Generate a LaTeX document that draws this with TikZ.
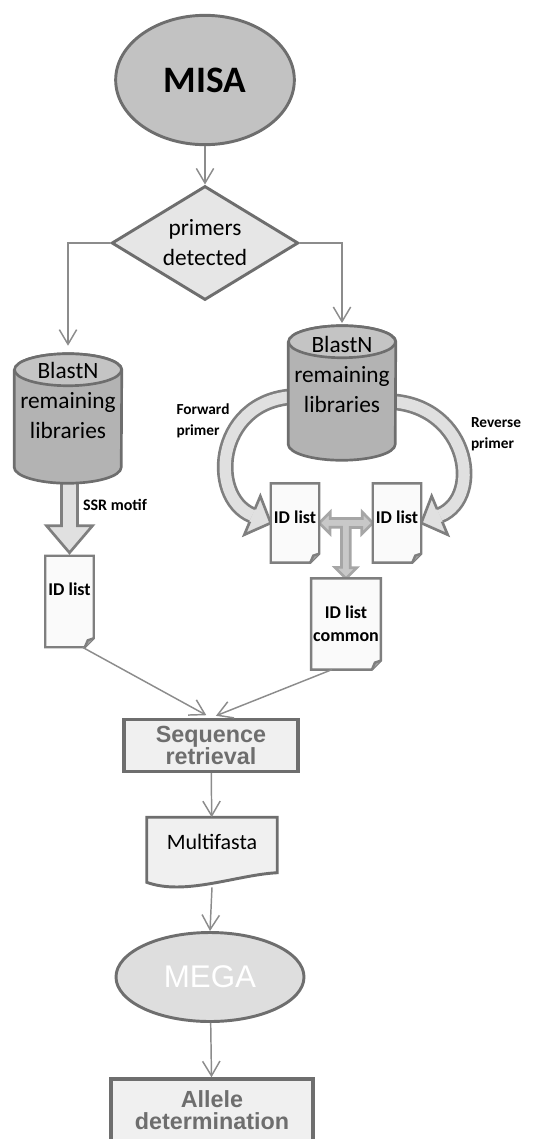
\documentclass[tikz,border=0pt]{standalone}
\usepackage{fontspec}
\setmainfont{Carlito}
\newfontfamily\arialfont{Liberation Sans}
\usetikzlibrary{shapes,shapes.geometric,arrows.meta,calc,positioning,backgrounds}

\definecolor{edgegray}{HTML}{6E6E6E}
\definecolor{linegray}{HTML}{8C8C8C}
\definecolor{misagray}{HTML}{C2C2C2}
\definecolor{diagray}{HTML}{E6E6E6}
\definecolor{cylgray}{HTML}{B3B3B3}
\definecolor{cylend}{HTML}{C4C4C4}
\definecolor{blockfill}{HTML}{E0E0E0}
\definecolor{blockedge}{HTML}{7F7F7F}
\definecolor{docfill}{HTML}{FAFAFA}
\definecolor{docedge}{HTML}{7F7F7F}
\definecolor{tfill}{HTML}{C8C8C8}
\definecolor{tedge}{HTML}{A6A6A6}
\definecolor{boxgray}{HTML}{F0F0F0}
\definecolor{megagray}{HTML}{DEDEDE}

\begin{document}
\begin{tikzpicture}[%
>={Straight Barb[length=11pt,width=13pt]},
x=0.75pt, y=-0.75pt,
flow/.style={draw=linegray, line width=1.1pt},
term/.style={ellipse, draw=edgegray, line width=2.2pt, inner sep=0pt},
db/.style={rectangle, minimum width=80.25pt, inner sep=0pt},
dbline/.style={draw=edgegray, line width=2pt, line join=round},
dbtext/.style={align=center, font=\fontsize{17.5}{22.5}\selectfont},
doc/.style={minimum width=36pt, inner sep=0pt, align=center, font=\bfseries\fontsize{13.5}{17}\selectfont},
docline/.style={draw=docedge, fill=docfill, line width=1.8pt, line join=miter},
block/.style={draw=blockedge, fill=blockfill, line width=2pt, line join=miter},
band/.style={draw=blockedge, line width=2pt, double=blockfill, double distance=8.5pt},
proc/.style={rectangle, draw=edgegray, fill=boxgray, line width=2.6pt, inner sep=0pt, align=center,
  text=edgegray, font=\arialfont\bfseries\fontsize{17.5}{16.5}\selectfont},
lbl/.style={align=left, font=\bfseries\fontsize{11.5}{16}\selectfont}
]

\path[use as bounding box, clip] (0,0) rectangle (554,1139);

% decision part
\node[term, fill=misagray, minimum width=134pt, minimum height=97pt,
  font=\bfseries\fontsize{28}{30}\selectfont] (misa) at (205,80) {MISA};
\node[diamond, draw=edgegray, fill=diagray, line width=2.2pt, minimum width=140pt,
  minimum height=85.5pt, inner sep=0pt, aspect=1.6, align=center,
  font=\fontsize{17.5}{22.5}\selectfont] (prim) at (205,243) {primers\\detected};

% libraries (frames, shapes drawn below)
\node[db, minimum height=96.75pt] (lib1) at (68,418.5) {};
\node[db, minimum height=100.5pt] (lib2) at (342,393) {};
\node[dbtext] (lib1t) at (68,400) {BlastN\\remaining\\libraries};
\node[dbtext] (lib2t) at (342,374) {BlastN\\remaining\\libraries};

% id lists
\node[doc, minimum height=68.25pt, text depth=19pt] (idl) at (69.5,601.5) {ID list};
\node[doc, minimum height=59pt, text depth=9pt] (idf) at (295,523) {ID list};
\node[doc, minimum height=59pt, text depth=9pt] (idr) at (397,523) {ID list};
\node[doc, minimum width=52pt, minimum height=68pt] (idc) at (346,624) {ID list\\common};

\node[lbl] (fwd) at (203,421) {Forward\\primer};
\node[lbl] (rev) at (496,434) {Reverse\\primer};
\node[font=\bfseries\fontsize{12}{14}\selectfont] (ssr) at (115,505) {SSR motif};

% lower part
\node[proc, minimum width=130.5pt, minimum height=39pt] (seq) at (211,745.5) {Sequence\\retrieval};
\node[minimum width=97.5pt, minimum height=48.4pt, inner sep=0pt, text depth=12pt,
  font=\fontsize{16.5}{20}\selectfont] (mf) at (212,849.75) {Multifasta};
\node[term, fill=megagray, minimum width=141pt, minimum height=66.75pt, text=white,
  font=\arialfont\fontsize{23.5}{28}\selectfont] (mega) at (210,977) {MEGA};
\node[proc, minimum width=151.5pt, minimum height=46.5pt] (allele) at (212,1110) {Allele\\determination};

% thin arrows
\draw[flow,->] (misa) -- (prim);
\draw[flow,->,shorten >=6pt] (prim.west) -| (lib1.north);
\draw[flow,->,shorten >=2pt] (prim.east) -| (lib2.north);
\draw[flow,->,shorten >=4pt] ($(idl.south)+(13,0)$) -- (seq.north);
\draw[flow,->,shorten >=4pt] ($(idc.south)+(-14,0)$) -- (seq.north);
\draw[flow,->] (seq) -- (mf);
\draw[flow,->] ($(mf.south)+(0,5)$) -- (mega.north);
\draw[flow,->] (mega) -- (allele);

\begin{pgfonlayer}{background}
% block arrows
\draw[block] ($(idl.north)+(0,-3)$) -- ++(-23,-27) -- ++(15,0) -- ++(0,-50) -- ++(16,0)
  -- ++(0,50) -- ++(15,0) -- cycle;
\draw[band] ($(lib2.west)+(13,3.5)$) .. controls +(-85,-2) and +(-46,-19) .. ($(idf.west)+(-18.4,-7.6)$);
\draw[block] ($(idf.west)+(-15.9,-13.8)$) -- ++(5.5,-13.1) -- (idf.west) -- ++(-26.4,11.7) -- ++(5.5,-13.1);
\draw[band] ($(lib2.east)+(-13,8.5)$) .. controls +(84,-2) and +(46,-19) .. ($(idr.east)+(18.4,-7.6)$);
\draw[block] ($(idr.east)+(15.9,-13.8)$) -- ++(-5.5,-13.1) -- (idr.east) -- ++(26.4,11.7) -- ++(-5.5,-13.1);
\draw[block, draw=tedge, fill=tfill] (idf.east) -- ++(11,-11) -- ++(0,6.5) -- ++(32,0) -- ++(0,-6.5)
  -- (idr.west) -- ++(-11,11) -- ++(0,-6.5) -- ++(-11.5,0) -- ++(0,40.2) -- ++(6.5,0)
  -- (idc.north) -- ++(-11,-11) -- ++(6.5,0) -- ++(0,-40.2) -- ++(-11.5,0) -- ++(0,6.5) -- cycle;

% cylinders
\foreach \c in {lib1,lib2} {
  \draw[dbline, fill=cylgray] ($(\c.north west)+(0,16)$) -- ($(\c.south west)+(0,-16)$)
    arc[start angle=180, end angle=360, x radius=40.125pt, y radius=12pt]
    -- ($(\c.north east)+(0,16)$)
    arc[start angle=0, end angle=180, x radius=40.125pt, y radius=12pt] -- cycle;
  \draw[dbline, fill=cylend] ($(\c.north)+(0,16)$) ellipse [x radius=40.125pt, y radius=12pt];
}

% documents
\foreach \n in {idl,idf,idr,idc} {
  \draw[docline] (\n.north west) -- (\n.north east) -- ($(\n.south east)+(0,-9)$)
    -- ($(\n.south east)+(-9,0)$) -- (\n.south west) -- cycle;
  \draw[docline, fill=docedge!70] ($(\n.south east)+(0,-9)$) -- ($(\n.south east)+(-6,-7)$)
    -- ($(\n.south east)+(-9,0)$);
}
\draw[docline, draw=edgegray, fill=boxgray, line width=2.2pt] (mf.north west) -- (mf.north east)
  -- ($(mf.north east)+(0,55.5)$) .. controls +(-40,2) and +(38,14) .. (mf.south west) -- cycle;
\end{pgfonlayer}

\end{tikzpicture}
\end{document}
